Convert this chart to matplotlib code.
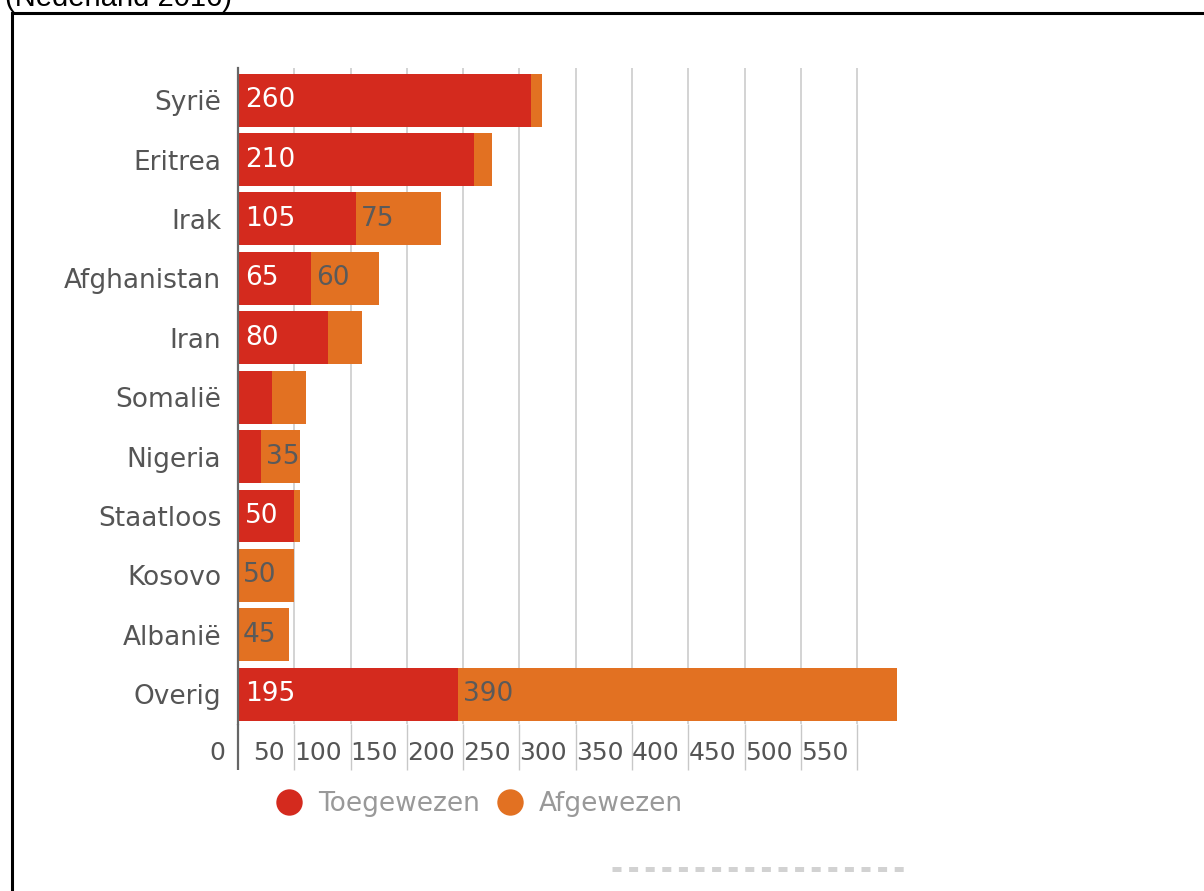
import matplotlib
matplotlib.use("Agg")
import matplotlib.pyplot as plt
from matplotlib.lines import Line2D
from matplotlib.patches import Rectangle
import matplotlib.transforms as mtransforms
import numpy as np

categories = ["Syrië", "Eritrea", "Irak", "Afghanistan", "Iran", "Somalië",
              "Nigeria", "Staatloos", "Kosovo", "Albanië", "Overig"]
toegewezen = [260, 210, 105, 65, 80, 30, 20, 50, 0, 0, 195]
afgewezen = [10, 16, 75, 60, 30, 30, 35, 5, 50, 45, 390]
x_ticks = [0, 50, 100, 150, 200, 250, 300, 350, 400, 450, 500, 550]
series_names = ["Toegewezen", "Afgewezen"]
title_text = "(Nederland 2016)"

RED = "#D42A1E"
ORANGE = "#E27122"
GRID = "#C8C8C8"
AXIS = "#666666"
TXT = "#555555"

W, H = 1204, 891
fig = plt.figure(figsize=(W / 100, H / 100), dpi=100)

def fx(px):
    return px / W

def fy(py):
    return 1 - py / H

ax_left, ax_right, ax_top, ax_bottom = 238, 900, 68, 724
ax = fig.add_axes([fx(ax_left), fy(ax_bottom), fx(ax_right - ax_left), (ax_bottom - ax_top) / H])

y = np.arange(len(categories))
bh = 0.89
ax.barh(y, toegewezen, height=bh, color=RED, zorder=3, edgecolor="none")
ax.barh(y, afgewezen, left=toegewezen, height=bh, color=ORANGE, zorder=3, edgecolor="none")

ax.set_xlim(0, 588)
ax.set_ylim(len(categories) - 0.5, -0.54)

# bar value labels
for i in range(len(categories)):
    if toegewezen[i] >= 35:
        ax.annotate(str(toegewezen[i]), xy=(0, i), xytext=(7, 0), textcoords="offset pixels",
                    ha="left", va="center", color="white", fontsize=19, zorder=5)
    if afgewezen[i] >= 35:
        ax.annotate(str(afgewezen[i]), xy=(toegewezen[i], i), xytext=(5, 0), textcoords="offset pixels",
                    ha="left", va="center", color="#5A5A5A", fontsize=19, zorder=5)

# axes styling
for s in ["top", "right", "bottom"]:
    ax.spines[s].set_visible(False)
ax.spines["left"].set_color(AXIS)
ax.spines["left"].set_linewidth(1.6)
ax.spines["left"].set_zorder(6)

ax.set_yticks(y)
ax.set_yticklabels(categories, fontsize=19, color=TXT)
ax.tick_params(axis="y", length=0, pad=12)

ax.set_xticks(x_ticks)
ax.set_xticklabels([""] * len(x_ticks))
ax.tick_params(axis="x", length=33, width=1.0, color=GRID, direction="out", pad=0)
t0 = ax.xaxis.get_major_ticks()[0]
t0.tick1line.set_markeredgecolor(AXIS)
t0.tick1line.set_markeredgewidth(1.6)
ax.grid(axis="x", color=GRID, linewidth=1.1, zorder=0)
ax.set_axisbelow(True)

# tick labels (offset like in the original)
trans = mtransforms.blended_transform_factory(ax.transData, ax.transAxes)
label_y = -(753 - ax_bottom) / (ax_bottom - ax_top)
for v in x_ticks:
    if v == 0:
        ax.text(v - 11, label_y, str(v), transform=trans, ha="right", va="center", fontsize=18, color=TXT)
    elif v == 50:
        ax.text(13, label_y, str(v), transform=trans, ha="left", va="center", fontsize=18, color=TXT)
    else:
        ax.text(v - 50, label_y, str(v), transform=trans, ha="left", va="center", fontsize=18, color=TXT)

# legend
handles = [Line2D([], [], marker="o", linestyle="", markersize=19, markerfacecolor=RED, markeredgecolor="none"),
           Line2D([], [], marker="o", linestyle="", markersize=19, markerfacecolor=ORANGE, markeredgecolor="none")]
leg = fig.legend(handles, series_names, loc="center left", bbox_to_anchor=(fx(273), fy(804)),
                 ncol=2, frameon=False, fontsize=19, handletextpad=0.5, columnspacing=0.55,
                 handlelength=1.2, borderpad=0, borderaxespad=0)
for t in leg.get_texts():
    t.set_color("#999999")

# outer frame and cut-off title
fig.add_artist(Rectangle((fx(11.5), -0.1), 1.2, fy(13.5) + 0.1, transform=fig.transFigure,
                         fill=False, linewidth=2.2, edgecolor="black", clip_on=False))
fig.text(fx(5), fy(6), title_text, fontsize=21, family="Liberation Sans", color="black",
         ha="left", va="baseline")

# faint credits placeholder
fig.add_artist(Line2D([fx(612), fx(910)], [fy(869), fy(869)], transform=fig.transFigure,
                      color="#D2D2D2", linewidth=3.6, linestyle=(0, (1.8, 1.52)),
                      solid_capstyle="butt", dash_capstyle="butt"))

fig.savefig("out.png", dpi=100)
